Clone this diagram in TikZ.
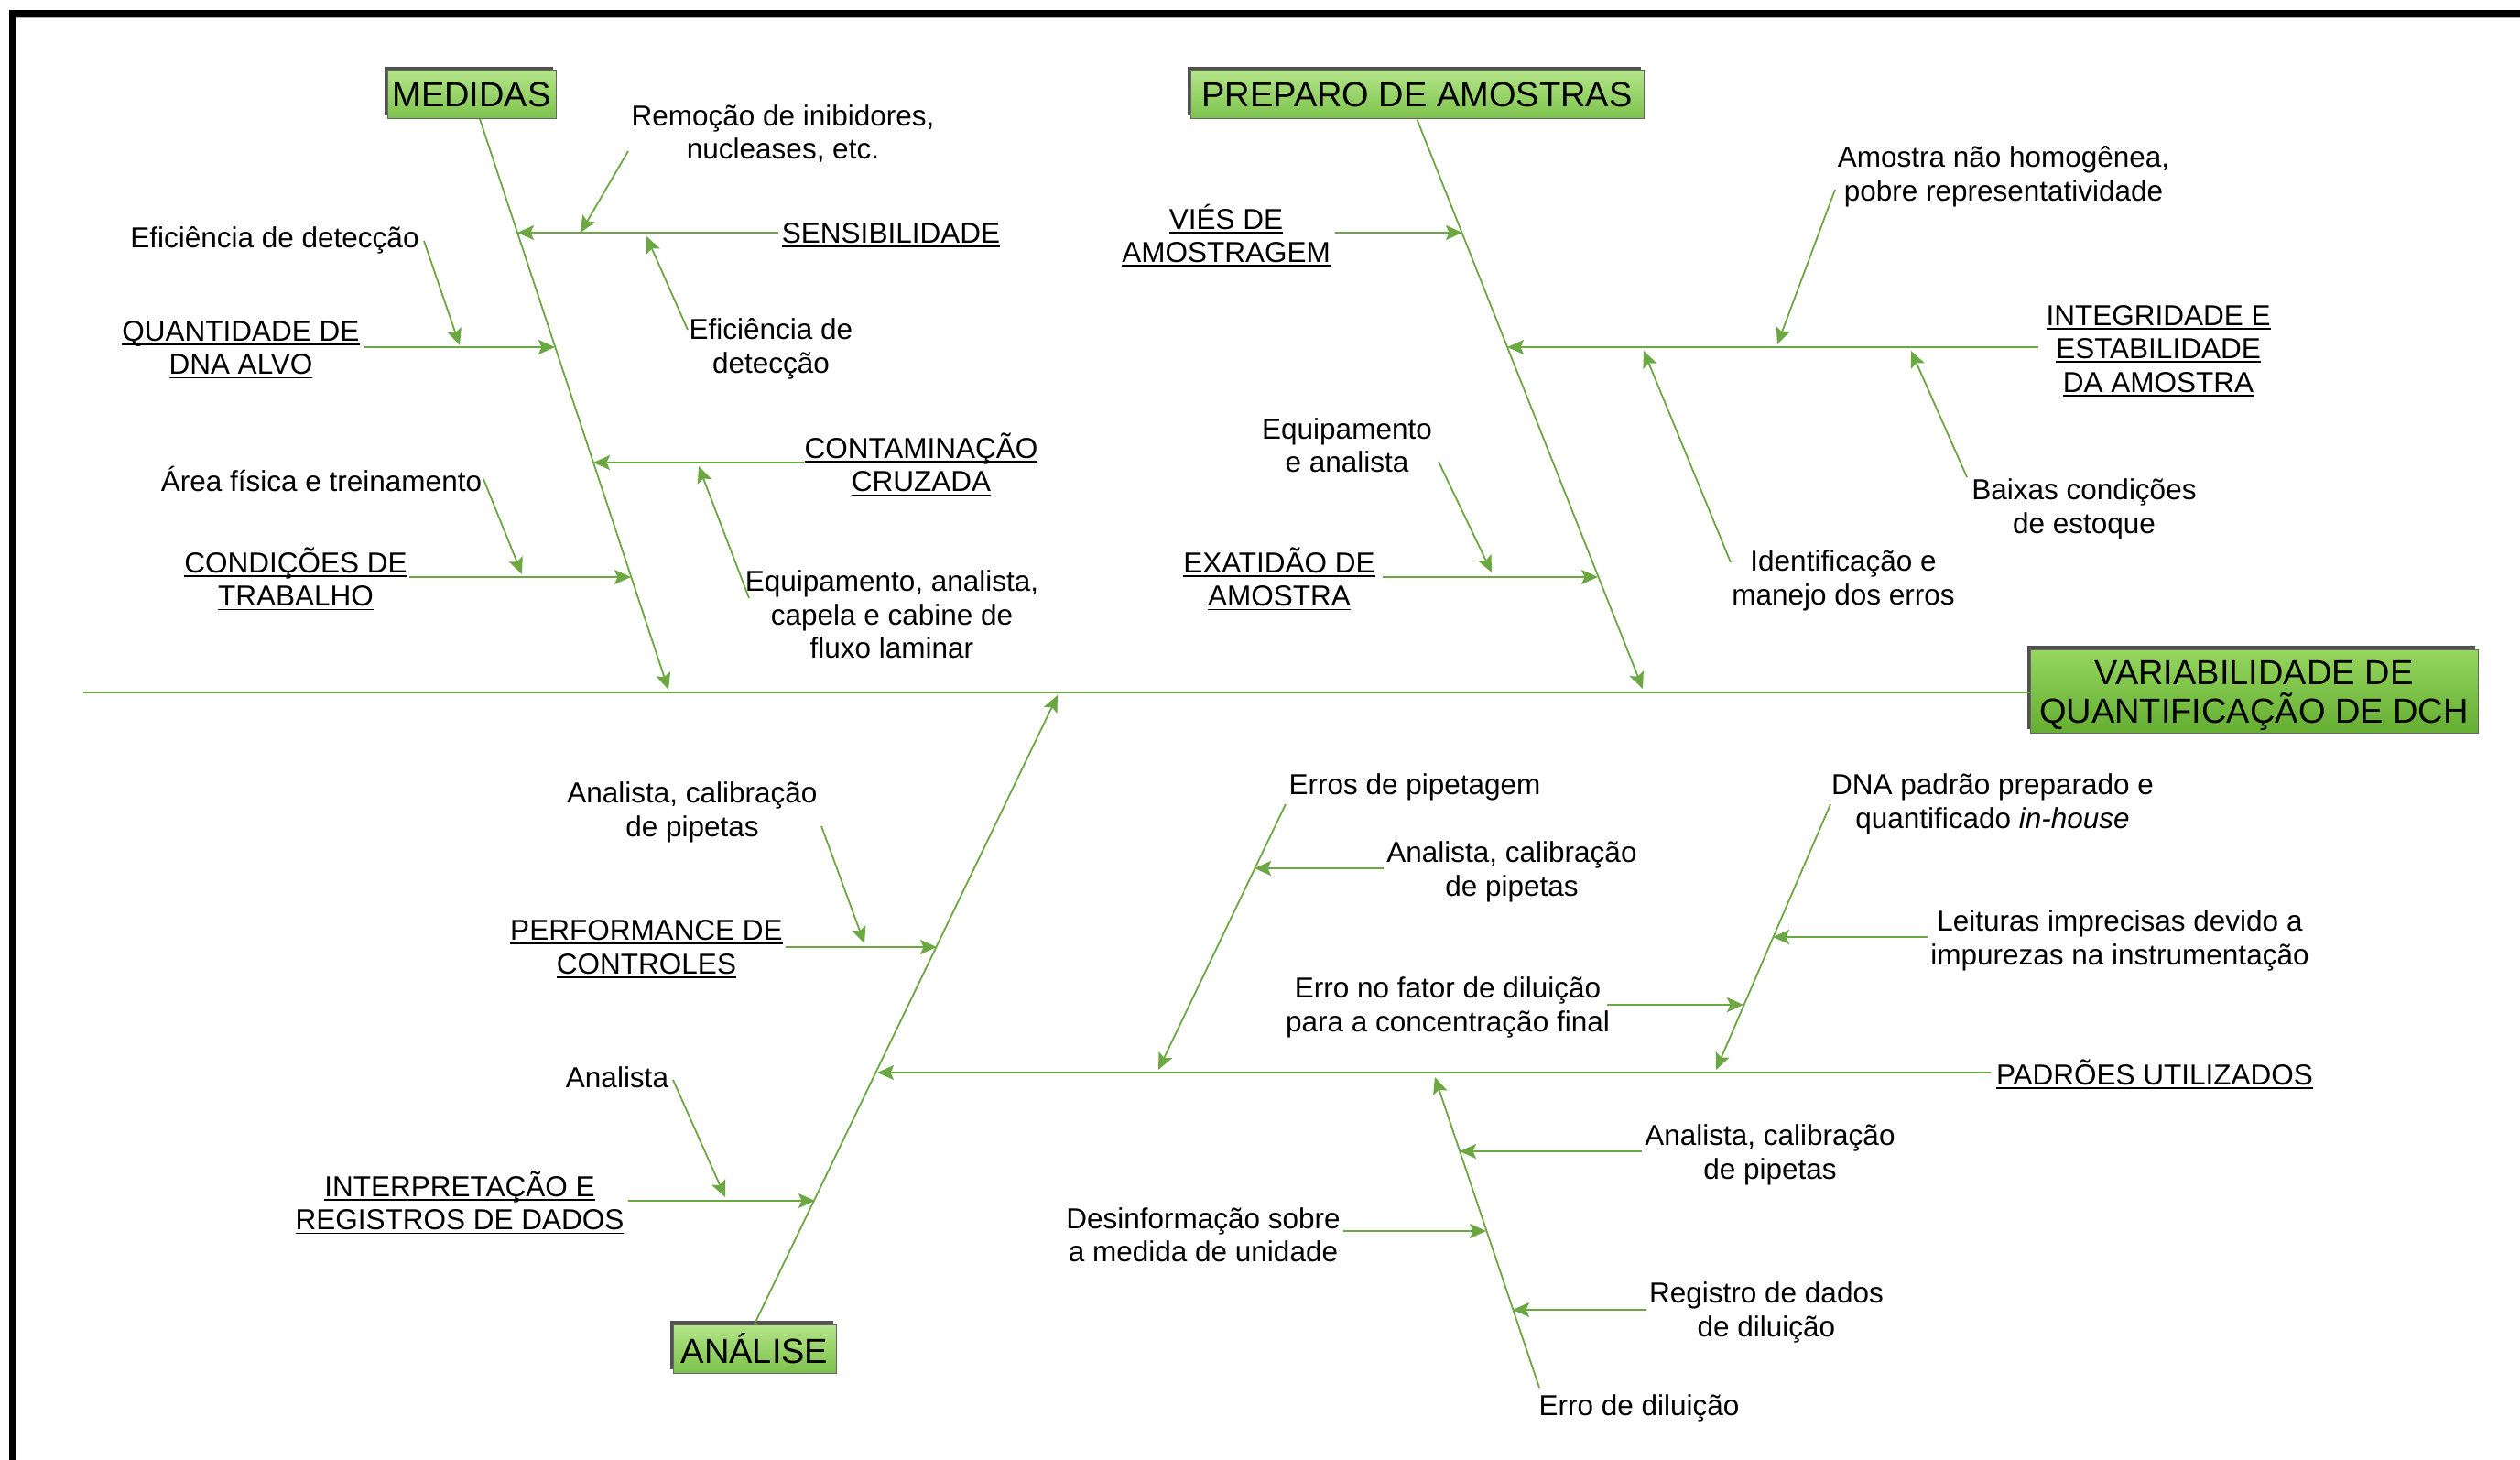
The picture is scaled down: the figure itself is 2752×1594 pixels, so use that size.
\documentclass[tikz,border=0pt]{standalone}
\usepackage{fontspec}
\setmainfont{Liberation Sans}
\usetikzlibrary{arrows.meta,shadows}

\definecolor{bonegreen}{RGB}{108,168,66}
\definecolor{boxtop}{RGB}{180,228,136}
\definecolor{boxbot}{RGB}{124,194,76}
\definecolor{effecttop}{RGB}{150,214,94}
\definecolor{effectbot}{RGB}{100,174,50}

\newsavebox\undlbox
\newcommand\undl[1]{\sbox\undlbox{#1}\rlap{\rule[-4.5pt]{\wd\undlbox}{1.8pt}}\usebox\undlbox}

\tikzset{
  catbox/.style={rectangle, draw=black!60, line width=1pt,
    top color=boxtop, bottom color=boxbot, inner sep=0pt,
    font=\fontsize{38}{42}\selectfont,
    drop shadow={shadow xshift=-3pt, shadow yshift=4pt, fill=black!80, opacity=0.85}},
  effectbox/.style={catbox, top color=effecttop, bottom color=effectbot},
  lbl/.style={align=center, inner sep=0pt, font=\fontsize{31.5}{36.5}\selectfont},
  boxtext/.style={align=center, inner sep=0pt, font=\fontsize{38}{42}\selectfont},
  spine/.style={draw=bonegreen, line width=1.8pt},
  arr/.style={draw=bonegreen, line width=1.8pt,
    -{Stealth[length=18pt,width=16pt,inset=3.5pt,fill=bonegreen]}}
}

\begin{document}
\begin{tikzpicture}[x=1pt,y=-1pt]
\useasboundingbox (0,0) rectangle (2752,1594);
\fill[white] (0,0) rectangle (2752,1594);

% page frame
\fill[black] (10,11) rectangle (2752,19);
\fill[black] (10,11) rectangle (18,1594);
\draw[black!30,line width=1pt] (18,20) -- (2752,20);

% ---------- main boxes ----------
\node[catbox, minimum width=184pt, minimum height=53pt] (med) at (515,103.5) {MEDIDAS};
\node[catbox, minimum width=495pt, minimum height=53pt] (pre) at (1547.5,103.5) {PREPARO DE AMOSTRAS};
\node[catbox, minimum width=178pt, minimum height=53pt] (ana) at (824,1472.5) {ANÁLISE};
\node[effectbox, minimum width=489pt, minimum height=91pt] (eff) at (2461.5,754.5) {};
\node[boxtext] (efftext) at (2461.5,759) {VARIABILIDADE DE\\QUANTIFICAÇÃO DE DCH};

% ---------- labels: MEDIDAS ----------
\node[lbl] (sens) at (973,257) {\undl{SENSIBILIDADE}};
\node[lbl] (rem) at (855,146) {Remoção de inibidores,\\nucleases, etc.};
\node[lbl] (efi2) at (842,381) {Eficiência de\\detecção};
\node[lbl] (qtd) at (263,382) {\undl{QUANTIDADE DE}\\\undl{DNA ALVO}};
\node[lbl] (efi1) at (300,262) {Eficiência de detecção};
\node[lbl] (cont) at (1006,507) {\undl{CONTAMINAÇÃO}\\\undl{CRUZADA}};
\node[lbl] (equip1) at (974,671) {Equipamento, analista,\\capela e cabine de\\fluxo laminar};
\node[lbl] (cond) at (323,632) {\undl{CONDIÇÕES DE}\\\undl{TRABALHO}};
\node[lbl] (area) at (351,523) {Área física e treinamento};

% ---------- labels: PREPARO DE AMOSTRAS ----------
\node[lbl] (vies) at (1339,257) {\undl{VIÉS DE}\\\undl{AMOSTRAGEM}};
\node[lbl] (integ) at (2357,383) {\undl{INTEGRIDADE E}\\\undl{ESTABILIDADE}\\\undl{DA AMOSTRA}};
\node[lbl] (amostra) at (2188,193) {Amostra não homogênea,\\pobre representatividade};
\node[lbl] (baixas) at (2276,556) {Baixas condições\\de estoque};
\node[lbl] (ident) at (2013,634) {Identificação e\\manejo dos erros};
\node[lbl] (exat) at (1397,632) {\undl{EXATIDÃO DE}\\\undl{AMOSTRA}};
\node[lbl] (equip2) at (1471,486) {Equipamento\\e analista};

% ---------- labels: ANÁLISE ----------
\node[lbl] (perf) at (706,1036) {\undl{PERFORMANCE DE}\\\undl{CONTROLES}};
\node[lbl] (anal1) at (756,887) {Analista, calibração\\de pipetas};
\node[lbl] (interp) at (502,1313) {\undl{INTERPRETAÇÃO E}\\\undl{REGISTROS DE DADOS}};
\node[lbl] (anal2) at (674,1176) {Analista};

% ---------- labels: PADRÕES UTILIZADOS ----------
\node[lbl] (padroes) at (2353,1173) {\undl{PADRÕES UTILIZADOS}};
\node[lbl] (erropip) at (1545,859) {Erros de pipetagem};
\node[lbl] (anal3) at (1651,952) {Analista, calibração\\de pipetas};
\node[lbl] (fator) at (1581,1100) {Erro no fator de diluição\\para a concentração final};
\node[lbl] (dnapad) at (2176,878) {DNA padrão preparado e\\quantificado \textit{in-house}};
\node[lbl] (leit) at (2315,1027) {Leituras imprecisas devido a\\impurezas na instrumentação};
\node[lbl] (errodil) at (1790,1537) {Erro de diluição};
\node[lbl] (anal4) at (1933,1261) {Analista, calibração\\de pipetas};
\node[lbl] (desinf) at (1314,1348) {Desinformação sobre\\a medida de unidade};
\node[lbl] (registro) at (1929,1433) {Registro de dados\\de diluição};

% ---------- junction points ----------
\coordinate (spL) at (91,756);
\coordinate (medTop) at (524,130);
\coordinate (medEnd) at (730,753);
\coordinate (preEnd) at (1794,752);
\coordinate (anaEnd) at (1155,759);

\coordinate (jSens) at (565,254);
\coordinate (jQtd) at (606,379);
\coordinate (jCont) at (648,505);
\coordinate (jCond) at (689,630);
\coordinate (jVies) at (1597,254);
\coordinate (jInteg) at (1646,379);
\coordinate (jExat) at (1745,630);
\coordinate (jPerf) at (1023,1034);
\coordinate (jInterp) at (890,1311);
\coordinate (jPadr) at (958,1171);

\coordinate (sRem) at (686,165);   \coordinate (tRem) at (634,254);
\coordinate (sEfi2) at (751,360);  \coordinate (tEfi2) at (706,258);
\coordinate (sEfi1) at (463,263);  \coordinate (tEfi1) at (502,377);
\coordinate (sEq1) at (818,653);   \coordinate (tEq1) at (763,509);
\coordinate (sArea) at (528,523);  \coordinate (tArea) at (570,627);
\coordinate (sAmo) at (2004,207);  \coordinate (tAmo) at (1941,376);
\coordinate (sBaix) at (2148,521); \coordinate (tBaix) at (2087,383);
\coordinate (sIdent) at (1890,614);\coordinate (tIdent) at (1795,383);
\coordinate (sEq2) at (1571,504);  \coordinate (tEq2) at (1629,625);
\coordinate (sAn1) at (897,902);   \coordinate (tAn1) at (944,1030);
\coordinate (sAn2) at (735,1179);  \coordinate (tAn2) at (792,1307);

\coordinate (sPip) at (1404,878);  \coordinate (tPip) at (1265,1168);
\coordinate (sDna) at (1999,878);  \coordinate (tDna) at (1874,1168);
\coordinate (sDil) at (1681,1515); \coordinate (tDil) at (1567,1176);
\coordinate (jAn3) at (1370,948);
\coordinate (jFator) at (1904,1097);
\coordinate (jLeit) at (1936,1023);
\coordinate (jAn4) at (1594,1257);
\coordinate (jDesinf) at (1623,1344);
\coordinate (jReg) at (1652,1430);

% ---------- spine and main bones ----------
\draw[spine] (spL) -- (spL -| eff.west);
\draw[arr] (medTop) -- (medEnd);
\draw[arr] (pre.south) -- (preEnd);
\draw[arr] (ana.north) -- (anaEnd);

% ---------- MEDIDAS ----------
\draw[arr] ([xshift=-4pt]jSens -| sens.west) -- (jSens);
\draw[arr] ([xshift=5pt]jQtd -| qtd.east) -- (jQtd);
\draw[arr] (jCont -| cont.west) -- (jCont);
\draw[arr] ([xshift=2pt]jCond -| cond.east) -- (jCond);
\draw[arr] (sRem) -- (tRem);
\draw[arr] (sEfi2) -- (tEfi2);
\draw[arr] (sEfi1) -- (tEfi1);
\draw[arr] (sEq1) -- (tEq1);
\draw[arr] (sArea) -- (tArea);

% ---------- PREPARO DE AMOSTRAS ----------
\draw[arr] ([xshift=5pt]jVies -| vies.east) -- (jVies);
\draw[arr] ([xshift=-8pt]jInteg -| integ.west) -- (jInteg);
\draw[arr] ([xshift=8pt]jExat -| exat.east) -- (jExat);
\draw[arr] (sAmo) -- (tAmo);
\draw[arr] (sBaix) -- (tBaix);
\draw[arr] (sIdent) -- (tIdent);
\draw[arr] (sEq2) -- (tEq2);

% ---------- ANÁLISE ----------
\draw[arr] ([xshift=3pt]jPerf -| perf.east) -- (jPerf);
\draw[arr] ([xshift=4pt]jInterp -| interp.east) -- (jInterp);
\draw[arr] (sAn1) -- (tAn1);
\draw[arr] (sAn2) -- (tAn2);

% ---------- PADRÕES UTILIZADOS ----------
\draw[arr] ([xshift=-6pt]jPadr -| padroes.west) -- (jPadr);
\draw[arr] (sPip) -- (tPip);
\draw[arr] (sDna) -- (tDna);
\draw[arr] (sDil) -- (tDil);
\draw[arr] ([xshift=-3pt]jAn3 -| anal3.west) -- (jAn3);
\draw[arr] ([xshift=-3pt]jFator -| fator.east) -- (jFator);
\draw[arr] ([xshift=-3pt]jLeit -| leit.west) -- (jLeit);
\draw[arr] ([xshift=-3pt]jAn4 -| anal4.west) -- (jAn4);
\draw[arr] ([xshift=3pt]jDesinf -| desinf.east) -- (jDesinf);
\draw[arr] ([xshift=-3pt]jReg -| registro.west) -- (jReg);
\end{tikzpicture}
\end{document}
